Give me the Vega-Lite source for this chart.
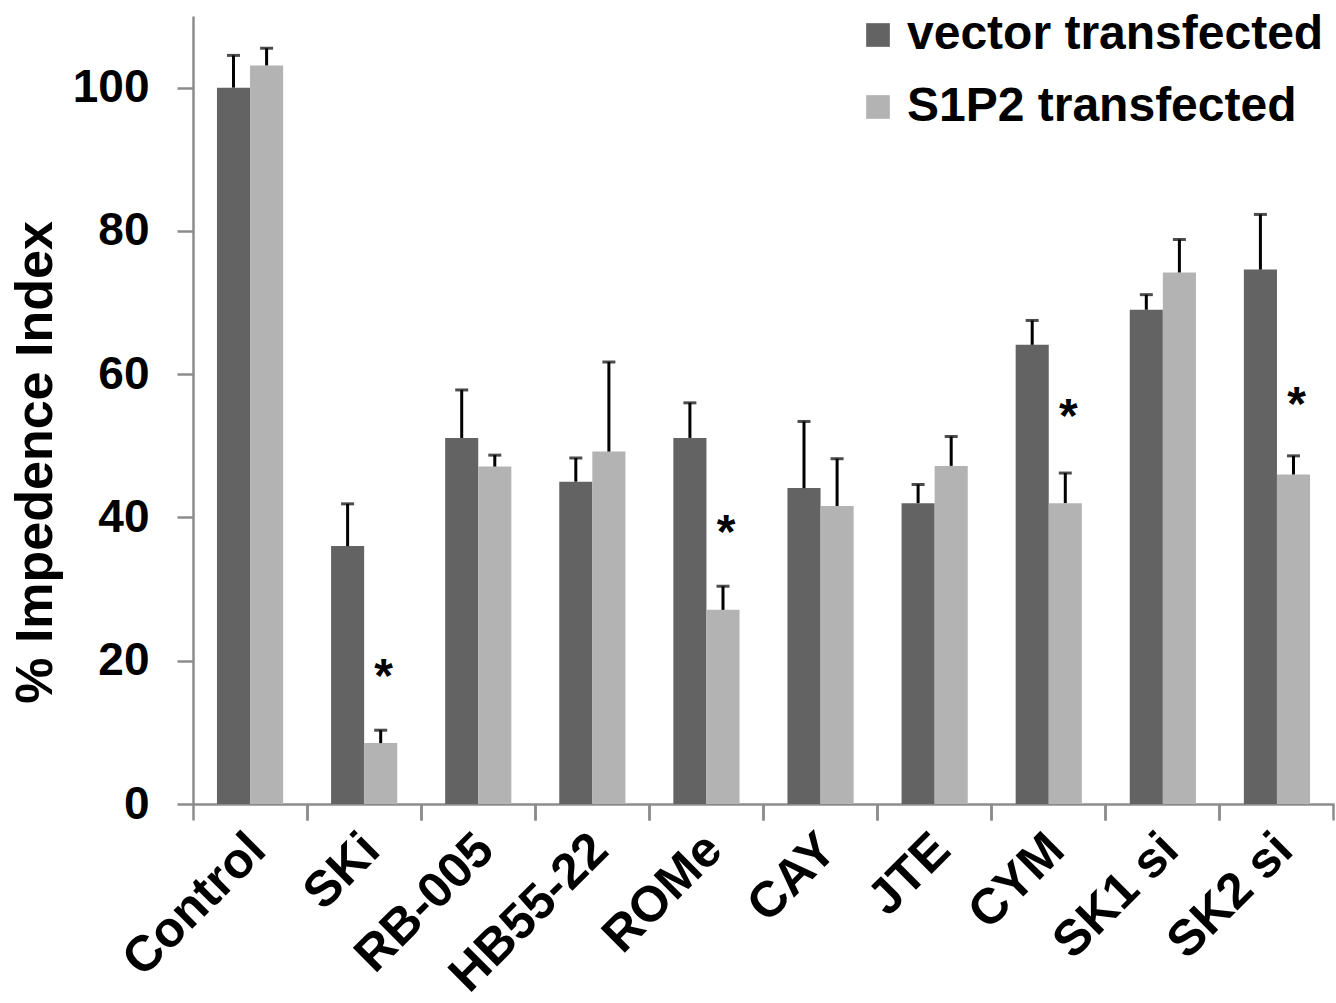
{
  "$schema": "https://vega.github.io/schema/vega-lite/v6.json",
  "width": 1141,
  "height": 788,
  "autosize": {"type": "none"},
  "padding": {"left": 193, "top": 16, "right": 2, "bottom": 199},
  "background": "white",
  "config": {
    "font": "Liberation Sans",
    "view": {"stroke": null},
    "axis": {"grid": false, "domainColor": "#8c8c8c", "domainWidth": 2.5, "tickColor": "#8c8c8c", "tickWidth": 2.5, "tickSize": 16, "labelFont": "Liberation Sans", "labelFontWeight": "bold", "labelColor": "black", "titleFont": "Liberation Sans", "titleFontWeight": "bold", "titleColor": "black"}
  },
  "data": {"values": [
    {"condition": "Control", "group": "vector transfected", "mean": 100.0, "upper": 104.5, "star": null},
    {"condition": "Control", "group": "S1P2 transfected", "mean": 103.1, "upper": 105.5, "star": null},
    {"condition": "SKi", "group": "vector transfected", "mean": 36.0, "upper": 41.9, "star": null},
    {"condition": "SKi", "group": "S1P2 transfected", "mean": 8.5, "upper": 10.3, "star": 19.0},
    {"condition": "RB-005", "group": "vector transfected", "mean": 51.1, "upper": 57.8, "star": null},
    {"condition": "RB-005", "group": "S1P2 transfected", "mean": 47.1, "upper": 48.7, "star": null},
    {"condition": "HB55-22", "group": "vector transfected", "mean": 45.0, "upper": 48.3, "star": null},
    {"condition": "HB55-22", "group": "S1P2 transfected", "mean": 49.2, "upper": 61.7, "star": null},
    {"condition": "ROMe", "group": "vector transfected", "mean": 51.1, "upper": 56.0, "star": null},
    {"condition": "ROMe", "group": "S1P2 transfected", "mean": 27.1, "upper": 30.4, "star": 39.1},
    {"condition": "CAY", "group": "vector transfected", "mean": 44.1, "upper": 53.4, "star": null},
    {"condition": "CAY", "group": "S1P2 transfected", "mean": 41.6, "upper": 48.2, "star": null},
    {"condition": "JTE", "group": "vector transfected", "mean": 42.0, "upper": 44.6, "star": null},
    {"condition": "JTE", "group": "S1P2 transfected", "mean": 47.2, "upper": 51.3, "star": null},
    {"condition": "CYM", "group": "vector transfected", "mean": 64.1, "upper": 67.5, "star": null},
    {"condition": "CYM", "group": "S1P2 transfected", "mean": 42.0, "upper": 46.2, "star": 55.3},
    {"condition": "SK1 si", "group": "vector transfected", "mean": 69.0, "upper": 71.1, "star": null},
    {"condition": "SK1 si", "group": "S1P2 transfected", "mean": 74.2, "upper": 78.8, "star": null},
    {"condition": "SK2 si", "group": "vector transfected", "mean": 74.6, "upper": 82.3, "star": null},
    {"condition": "SK2 si", "group": "S1P2 transfected", "mean": 46.0, "upper": 48.6, "star": 57.0}
  ]},
  "resolve": {"axis": {"x": "independent"}},
  "layer": [
    {
      "mark": {"type": "bar"},
      "encoding": {
        "x": {"field": "condition", "type": "nominal", "sort": null,
          "scale": {"paddingInner": 0.42, "paddingOuter": 0.21},
          "axis": {"orient": "bottom", "title": null, "labelAngle": -45, "labelFontSize": 50, "labelPadding": 20, "labelOffset": -10, "labelLimit": 400, "ticks": false, "domain": true}},
        "xOffset": {"field": "group", "type": "nominal", "sort": ["vector transfected", "S1P2 transfected"], "scale": {"paddingInner": 0, "paddingOuter": 0}},
        "y": {"field": "mean", "type": "quantitative", "scale": {"domain": [0, 110], "nice": false},
          "axis": {"values": [0, 20, 40, 60, 80, 100], "labelFontSize": 46, "labelPadding": 28, "title": "% Impedence Index", "titleFontSize": 52, "titlePadding": 10, "titleY": 446}},
        "color": {"field": "group", "type": "nominal", "sort": ["vector transfected", "S1P2 transfected"],
          "scale": {"domain": ["vector transfected", "S1P2 transfected"], "range": ["#636363", "#b3b3b3"]},
          "legend": {"title": null, "orient": "none", "legendX": 661, "legendY": -5, "labelFontSize": 48, "labelFont": "Liberation Sans", "labelFontWeight": "bold", "labelColor": "black", "symbolType": "square", "symbolSize": 560, "symbolStrokeWidth": 0, "rowPadding": 24, "labelOffset": 5, "labelLimit": 600}}
      }
    },
    {
      "mark": {"type": "rule", "color": "black", "strokeWidth": 3},
      "encoding": {
        "x": {"field": "condition", "type": "nominal", "sort": null,
          "axis": {"orient": "bottom", "title": null, "labels": false, "domain": false, "ticks": true, "bandPosition": -0.362}},
        "xOffset": {"field": "group", "type": "nominal", "sort": ["vector transfected", "S1P2 transfected"]},
        "y": {"field": "mean", "type": "quantitative"},
        "y2": {"field": "upper"}
      }
    },
    {
      "mark": {"type": "tick", "color": "black", "thickness": 3, "size": 13, "orient": "horizontal"},
      "encoding": {
        "x": {"field": "condition", "type": "nominal", "sort": null,
          "axis": {"orient": "bottom", "title": null, "labels": false, "domain": false, "ticks": true, "bandPosition": 1.362}},
        "xOffset": {"field": "group", "type": "nominal", "sort": ["vector transfected", "S1P2 transfected"]},
        "y": {"field": "upper", "type": "quantitative"}
      }
    },
    {
      "transform": [{"filter": "datum.star != null"}],
      "mark": {"type": "text", "text": "*", "fontSize": 48, "fontWeight": "bold", "font": "Liberation Sans", "color": "black", "baseline": "alphabetic", "dy": 24, "dx": 3},
      "encoding": {
        "x": {"field": "condition", "type": "nominal", "sort": null, "axis": null},
        "xOffset": {"field": "group", "type": "nominal", "sort": ["vector transfected", "S1P2 transfected"]},
        "y": {"field": "star", "type": "quantitative"}
      }
    }
  ]
}
